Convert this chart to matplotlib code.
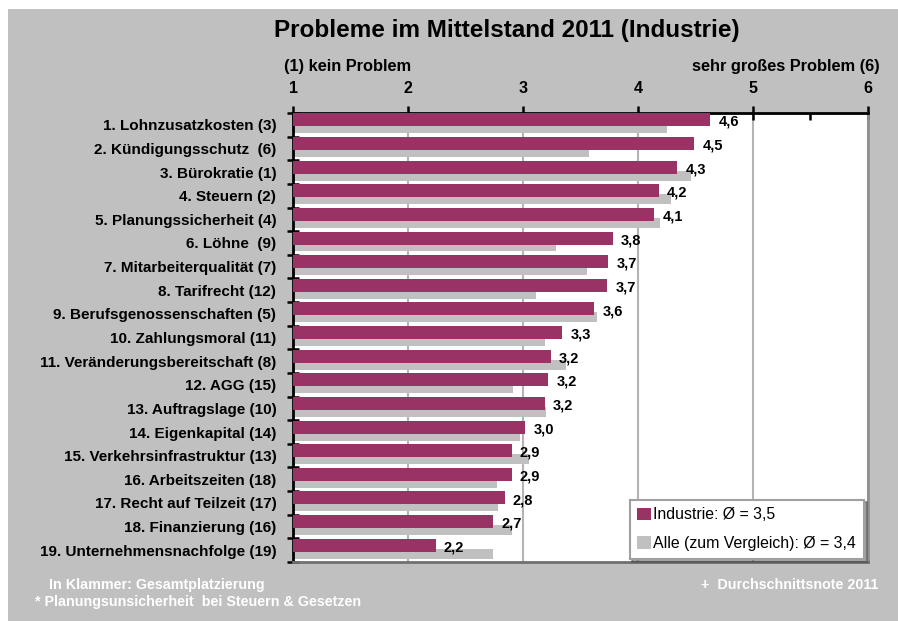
import matplotlib
matplotlib.use("Agg")
import matplotlib.pyplot as plt
from matplotlib.patches import Rectangle, Patch

plt.rcParams['font.family'] = ['Liberation Sans', 'DejaVu Sans']

# ── Data ──────────────────────────────────────────────────────────────
categories = [
    "1. Lohnzusatzkosten (3)",
    "2. Kündigungsschutz  (6)",
    "3. Bürokratie (1)",
    "4. Steuern (2)",
    "5. Planungssicherheit (4)",
    "6. Löhne  (9)",
    "7. Mitarbeiterqualität (7)",
    "8. Tarifrecht (12)",
    "9. Berufsgenossenschaften (5)",
    "10. Zahlungsmoral (11)",
    "11. Veränderungsbereitschaft (8)",
    "12. AGG (15)",
    "13. Auftragslage (10)",
    "14. Eigenkapital (14)",
    "15. Verkehrsinfrastruktur (13)",
    "16. Arbeitszeiten (18)",
    "17. Recht auf Teilzeit (17)",
    "18. Finanzierung (16)",
    "19. Unternehmensnachfolge (19)",
]
industrie = [4.63, 4.49, 4.34, 4.18, 4.14, 3.78, 3.74, 3.73, 3.62, 3.34,
             3.24, 3.22, 3.19, 3.02, 2.90, 2.90, 2.84, 2.74, 2.24]
alle = [4.25, 3.57, 4.46, 4.29, 4.19, 3.29, 3.56, 3.11, 3.64, 3.19,
        3.37, 2.91, 3.20, 2.97, 3.05, 2.77, 2.78, 2.90, 2.74]
x_ticks = [1, 2, 3, 4, 5, 6]
legend_labels = ["Industrie: Ø = 3,5", "Alle (zum Vergleich): Ø = 3,4"]

MAGENTA = "#993366"
GREY = "#c0c0c0"
BG = "#c0c0c0"

# ── Figure ────────────────────────────────────────────────────────────
fig = plt.figure(figsize=(8.98, 6.21), dpi=100, facecolor="white")
fig.patches.append(Rectangle((8 / 898, 0), 1, 1 - 9 / 621, transform=fig.transFigure,
                             facecolor=BG, edgecolor="none", zorder=-10))

ax = fig.add_axes([293 / 898, 1 - 562 / 621, 575 / 898, 449 / 621])
ax.set_facecolor("white")

n = len(categories)
ypos = list(range(n))
base = 1.0
ax.barh([y + 0.15 for y in ypos], [v - base for v in alle], left=base, height=0.42,
        color=GREY, edgecolor="none", zorder=2)
ax.barh([y - 0.21 for y in ypos], [v - base for v in industrie], left=base, height=0.55,
        color=MAGENTA, edgecolor="none", zorder=3)

for y, v in zip(ypos, industrie):
    ax.annotate(f"{v:.1f}".replace(".", ","), (v, y - 0.12), xytext=(6, 0),
                textcoords="offset points", ha="left", va="center",
                fontsize=10.5, fontweight="bold", zorder=5)

ax.set_xlim(1, 6)
ax.set_ylim(n - 0.5, -0.5)

# x axis on top
ax.xaxis.tick_top()
ax.set_xticks(x_ticks)
ax.set_xticklabels([str(t) for t in x_ticks], fontsize=11.5, fontweight="bold")
ax.set_xticks([t + 0.5 for t in x_ticks[:-1]], minor=True)
ax.tick_params(axis="x", which="major", direction="inout", length=10, width=1.8,
               pad=7, top=True, bottom=False)
ax.tick_params(axis="x", which="minor", direction="in", length=5, width=1.8,
               top=True, bottom=False)
ax.grid(axis="x", which="major", color="#b4b4b4", lw=1.5, zorder=1)

# y axis
ax.set_yticks(ypos)
ax.set_yticklabels(categories, fontsize=11, fontweight="bold")
ax.set_yticks([y - 0.5 for y in ypos] + [n - 0.5], minor=True)
ax.tick_params(axis="y", which="major", length=0, pad=12)
ax.tick_params(axis="y", which="minor", direction="inout", length=8, width=1.8)

for side in ("left", "top"):
    ax.spines[side].set_linewidth(2)
    ax.spines[side].set_color("black")
ax.spines["right"].set_color("#909090")
ax.spines["right"].set_linewidth(2)
ax.spines["bottom"].set_color("#707070")
ax.spines["bottom"].set_linewidth(2)
ax.set_axisbelow(True)

# legend
handles = [Patch(facecolor=MAGENTA, edgecolor="none"), Patch(facecolor=GREY, edgecolor="none")]
leg = ax.legend(handles, legend_labels, loc="lower right", bbox_to_anchor=(0.993, 0.007),
                borderaxespad=0, frameon=True, fancybox=False, shadow=True,
                handlelength=0.85, handleheight=0.85, handletextpad=0.15,
                labelspacing=0.85, borderpad=0.5, prop={"size": 11.4})
leg.get_frame().set_edgecolor("#a0a0a0")
leg.get_frame().set_linewidth(1.5)

# texts
fig.text(507 / 898, 1 - 30 / 621, "Probleme im Mittelstand 2011 (Industrie)",
         ha="center", va="center", fontsize=17.5, fontweight="bold")
fig.text(284 / 898, 1 - 67 / 621, "(1) kein Problem", ha="left", va="center",
         fontsize=11.8, fontweight="bold")
fig.text(880 / 898, 1 - 67 / 621, "sehr großes Problem (6)", ha="right", va="center",
         fontsize=11.8, fontweight="bold")
fig.text(49 / 898, 1 - 585 / 621, "In Klammer: Gesamtplatzierung", ha="left",
         va="center", fontsize=10.3, fontweight="bold", color="white")
fig.text(35 / 898, 1 - 602 / 621, "* Planungsunsicherheit  bei Steuern & Gesetzen",
         ha="left", va="center", fontsize=10.3, fontweight="bold", color="white")
fig.text(878 / 898, 1 - 585 / 621, "+  Durchschnittsnote 2011", ha="right",
         va="center", fontsize=10.3, fontweight="bold", color="white")

fig.savefig("out.png", dpi=100, facecolor=fig.get_facecolor())
